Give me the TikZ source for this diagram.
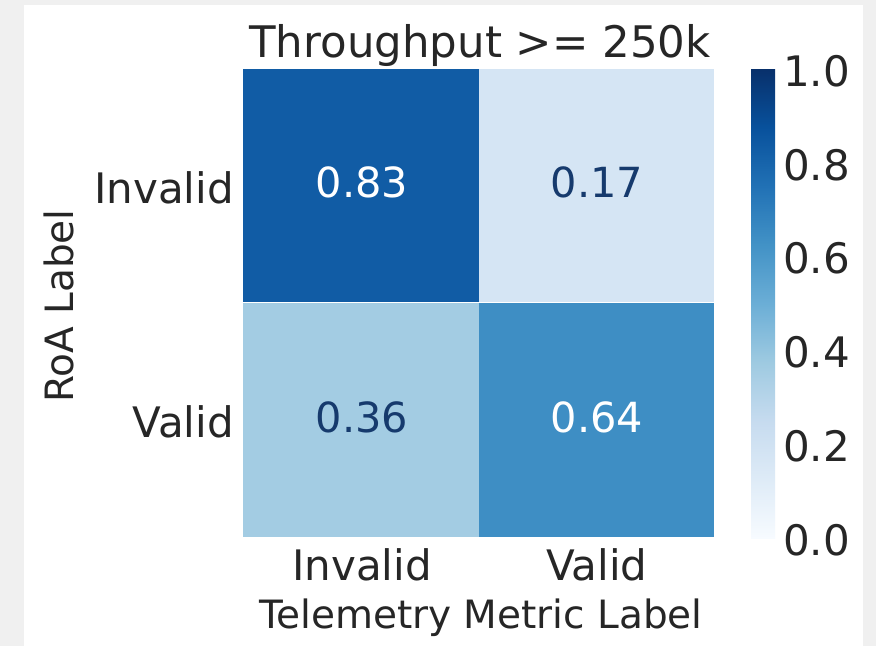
\documentclass[tikz,border=0pt]{standalone}
\usepackage{fontspec}
\setmainfont{DejaVu Sans}
\definecolor{pagegray}{HTML}{F0F0F0}
\definecolor{axtext}{HTML}{262626}
\definecolor{navytext}{HTML}{163A6D}
% Blues colormap stops
\definecolor{bl0}{HTML}{F7FBFF}
\definecolor{bl1}{HTML}{DEEBF7}
\definecolor{bl2}{HTML}{C6DBEF}
\definecolor{bl3}{HTML}{9ECAE1}
\definecolor{bl4}{HTML}{6BAED6}
\definecolor{bl5}{HTML}{4292C6}
\definecolor{bl6}{HTML}{2171B5}
\definecolor{bl7}{HTML}{08519C}
\definecolor{bl8}{HTML}{08306B}
% cell colours sampled from the same map
\definecolor{vA}{HTML}{115CA5}
\definecolor{vB}{HTML}{D5E5F4}
\definecolor{vC}{HTML}{A3CCE3}
\definecolor{vD}{HTML}{3E8EC4}
\pgfdeclareverticalshading{bluescb}{100bp}{%
  color(0bp)=(bl0); color(25bp)=(bl0); color(31.25bp)=(bl1);
  color(37.5bp)=(bl2); color(43.75bp)=(bl3); color(50bp)=(bl4);
  color(56.25bp)=(bl5); color(62.5bp)=(bl6); color(68.75bp)=(bl7);
  color(75bp)=(bl8); color(100bp)=(bl8)}
\tikzset{
  cell/.style={draw=none, inner sep=0pt, minimum width=235.5pt, minimum height=233.5pt},
  annot/.style={inner sep=0pt, anchor=base, font=\fontsize{41.5}{48}\selectfont},
  ticklbl/.style={inner sep=0pt, text=axtext, font=\fontsize{42}{50}\selectfont},
  titlelbl/.style={inner sep=0pt, text=axtext, font=\fontsize{43.5}{50}\selectfont},
  axlbl/.style={inner sep=0pt, text=axtext, font=\fontsize{39}{46}\selectfont},
}
\begin{document}
\begin{tikzpicture}[x=1pt, y=-1pt]
  \useasboundingbox (0,0) rectangle (876,646);
  \fill[pagegray] (0,0) rectangle (876,646);
  \fill[white] (24,5) rectangle (863,646);

  % heatmap cells
  \node[cell, fill=vA] (c11) at (361,185.5) {};
  \node[cell, fill=vB] (c12) at (596.5,185.5) {};
  \node[cell, fill=vC] (c21) at (361,420) {};
  \node[cell, fill=vD] (c22) at (596.5,420) {};

  % cell values
  \node[annot, text=white] (t11) at (362,197) {0.83};
  \node[annot, text=navytext] (t12) at (597,197) {0.17};
  \node[annot, text=navytext] (t21) at (362,432) {0.36};
  \node[annot, text=white] (t22) at (597,432) {0.64};

  % title
  \node[titlelbl, anchor=base] (title) at (480,57) {Throughput >= 250k};

  % y tick labels and label
  \node[ticklbl, anchor=base east] (yt1) at (234,203) {Invalid};
  \node[ticklbl, anchor=base east] (yt2) at (234,437) {Valid};
  \node[axlbl, anchor=base, rotate=90] (ylab) at (73,306) {RoA Label};

  % x tick labels and label
  \node[ticklbl, anchor=base] (xt1) at (362,580) {Invalid};
  \node[ticklbl, anchor=base] (xt2) at (597,580) {Valid};
  \node[axlbl, anchor=base] (xlab) at (481,628) {Telemetry Metric Label};

  % colour bar
  \node[inner sep=0pt, minimum width=24pt, minimum height=469pt, shading=bluescb] (cbar) at (763,303.5) {};
  \foreach \v/\lbl in {0/0.0, 0.2/0.2, 0.4/0.4, 0.6/0.6, 0.8/0.8, 1/1.0} {
    \node[ticklbl, anchor=west] (cb\lbl) at (783, 540-469*\v) {\lbl};
  }
\end{tikzpicture}
\end{document}
